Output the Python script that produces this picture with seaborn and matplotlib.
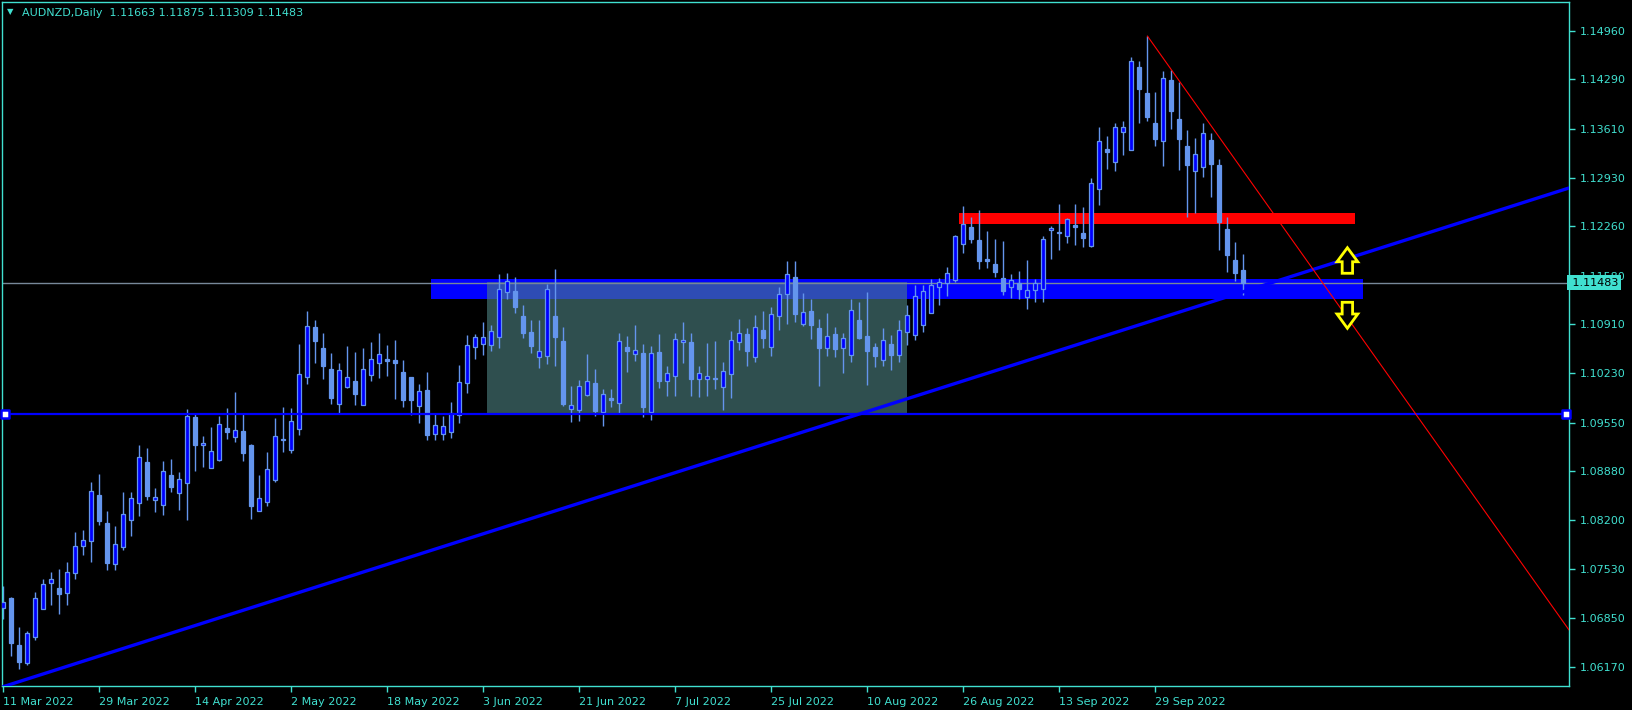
import numpy as np
import pandas as pd
import matplotlib
matplotlib.use('Agg')
import matplotlib.pyplot as plt
import matplotlib.transforms as mtransforms
import seaborn as sns

# ---------------------------------------------------------------- data
symbol = 'AUDNZD,Daily'
first_day = '2022-03-11'

opens = [
    1.06994, 1.07123, 1.06478, 1.06234, 1.06593, 1.06980, 1.07331, 1.07262, 1.07193, 1.07477,
    1.07849, 1.07918, 1.08550, 1.08163, 1.07601, 1.07836, 1.08206, 1.08444, 1.09006, 1.08485,
    1.08416, 1.08826, 1.08582, 1.08721, 1.09627, 1.09237, 1.08927, 1.09034, 1.09476, 1.09347,
    1.09434, 1.09241, 1.08329, 1.08453, 1.08757, 1.09324, 1.09172, 1.09466, 1.10184, 1.10870,
    1.10581, 1.10290, 1.09811, 1.10046, 1.10125, 1.09797, 1.10212, 1.10378, 1.10433, 1.10415,
    1.10249, 1.10180, 1.09783, 1.10000, 1.09397, 1.09397, 1.09421, 1.09659, 1.10101, 1.10590,
    1.10640, 1.10618, 1.10728, 1.11350, 1.11364, 1.11019, 1.10802, 1.10452, 1.10474, 1.11023,
    1.10677, 1.09734, 1.09720, 1.09936, 1.10097, 1.09692, 1.09890, 1.09817, 1.10590, 1.10494,
    1.10507, 1.09700, 1.10525, 1.10121, 1.10190, 1.10660, 1.10664, 1.10148, 1.10148, 1.10148,
    1.10037, 1.10218, 1.10660, 1.10774, 1.10460, 1.10829, 1.10590, 1.11019, 1.11323, 1.11561,
    1.10916, 1.11088, 1.10853, 1.10585, 1.10774, 1.10585, 1.10488, 1.10967, 1.10746, 1.10594,
    1.10415, 1.10630, 1.10484, 1.10802, 1.10760, 1.10900, 1.11068, 1.11419, 1.11474, 1.11516,
    1.12013, 1.12252, 1.12073, 1.11810, 1.11741, 1.11543, 1.11427, 1.11483, 1.11281, 1.11378,
    1.11392, 1.12215, 1.12173, 1.12132, 1.12280, 1.12165, 1.11994, 1.12773, 1.13330, 1.13146,
    1.13569, 1.13312, 1.14458, 1.14099, 1.13685, 1.13444, 1.14283, 1.13744, 1.13371, 1.13030,
    1.13085, 1.13454, 1.13109, 1.12225, 1.11796, 1.11663]
highs = [
    1.07293, 1.07137, 1.06726, 1.06671, 1.07210, 1.07386, 1.07487, 1.07528, 1.07624, 1.08034,
    1.08066, 1.08730, 1.08840, 1.08329, 1.08122, 1.08592, 1.08592, 1.09241, 1.09200, 1.08647,
    1.09020, 1.09047, 1.08868, 1.09738, 1.09669, 1.09365, 1.09490, 1.09641, 1.09752, 1.09973,
    1.09669, 1.09255, 1.08826, 1.09144, 1.09614, 1.09766, 1.09752, 1.10636, 1.11092, 1.10967,
    1.10788, 1.10512, 1.10373, 1.10608, 1.10525, 1.10581, 1.10664, 1.10788, 1.10622, 1.10691,
    1.10415, 1.10180, 1.10083, 1.10249, 1.09669, 1.09641, 1.09830, 1.10346, 1.10760, 1.10774,
    1.10940, 1.10894, 1.11603, 1.11617, 1.11561, 1.11171, 1.10967, 1.10967, 1.11465, 1.11672,
    1.10870, 1.10056, 1.10139, 1.10498, 1.10290, 1.10014, 1.10014, 1.10788, 1.10746, 1.10899,
    1.10636, 1.10608, 1.10774, 1.10336, 1.10788, 1.10940, 1.10788, 1.10332, 1.10650, 1.10677,
    1.10387, 1.10815, 1.10981, 1.10857, 1.11037, 1.11092, 1.11143, 1.11420, 1.11783, 1.11783,
    1.11340, 1.11253, 1.10981, 1.11064, 1.10870, 1.10784, 1.11253, 1.11216, 1.11350, 1.10650,
    1.10857, 1.10760, 1.10967, 1.11175, 1.11451, 1.11451, 1.11530, 1.11543, 1.11696, 1.12146,
    1.12542, 1.12395, 1.12487, 1.12197, 1.12086, 1.12059, 1.11603, 1.11649, 1.11796, 1.11534,
    1.12128, 1.12266, 1.12570, 1.12381, 1.12570, 1.12524, 1.12929, 1.13638, 1.13509, 1.13693,
    1.13721, 1.14605, 1.14549, 1.14891, 1.14117, 1.14407, 1.14421, 1.14259, 1.13592, 1.13486,
    1.13685, 1.13547, 1.13196, 1.12386, 1.12049, 1.11875]
lows = [
    1.06833, 1.06330, 1.06142, 1.06202, 1.06551, 1.06980, 1.07031, 1.06911, 1.07035, 1.07394,
    1.07721, 1.07628, 1.08136, 1.07514, 1.07514, 1.07790, 1.07987, 1.08264, 1.08485, 1.08315,
    1.08278, 1.08592, 1.08343, 1.08205, 1.08881, 1.08937, 1.08927, 1.09020, 1.09324, 1.09283,
    1.09020, 1.08219, 1.08329, 1.08398, 1.08730, 1.09144, 1.09130, 1.09383, 1.10087, 1.10378,
    1.10157, 1.09811, 1.09687, 1.10032, 1.09797, 1.09797, 1.10129, 1.10170, 1.10198, 1.09880,
    1.09770, 1.09659, 1.09549, 1.09310, 1.09310, 1.09310, 1.09338, 1.09549, 1.09963, 1.10433,
    1.10488, 1.10543, 1.10585, 1.11262, 1.11068, 1.10723, 1.10516, 1.10308, 1.10364, 1.10336,
    1.09783, 1.09563, 1.09577, 1.09922, 1.09645, 1.09507, 1.09770, 1.09673, 1.10253, 1.10405,
    1.09632, 1.09590, 1.10032, 1.09922, 1.09922, 1.10378, 1.09922, 1.09908, 1.09922, 1.10018,
    1.09728, 1.09894, 1.10557, 1.10336, 1.10392, 1.10585, 1.10474, 1.10833, 1.10916, 1.10944,
    1.10889, 1.10710, 1.10060, 1.10474, 1.10460, 1.10240, 1.10392, 1.10710, 1.10074, 1.10322,
    1.10332, 1.10280, 1.10387, 1.10622, 1.10691, 1.10800, 1.11060, 1.11175, 1.11299, 1.11488,
    1.11889, 1.12035, 1.11668, 1.11682, 1.11566, 1.11313, 1.11276, 1.11253, 1.11124, 1.11220,
    1.11220, 1.11806, 1.11935, 1.12035, 1.12003, 1.11980, 1.11980, 1.12556, 1.13053, 1.13030,
    1.13247, 1.13312, 1.13693, 1.13721, 1.13371, 1.13099, 1.13610, 1.13040, 1.12395, 1.12441,
    1.12939, 1.12662, 1.11935, 1.11635, 1.11511, 1.11309]
closes = [
    1.07068, 1.06501, 1.06248, 1.06639, 1.07123, 1.07321, 1.07386, 1.07187, 1.07483, 1.07845,
    1.07928, 1.08605, 1.08193, 1.07615, 1.07873, 1.08288, 1.08509, 1.09071, 1.08540, 1.08522,
    1.08881, 1.08665, 1.08771, 1.09641, 1.09241, 1.09269, 1.09158, 1.09531, 1.09421, 1.09448,
    1.09130, 1.08398, 1.08509, 1.08909, 1.09365, 1.09310, 1.09572, 1.10221, 1.10884, 1.10682,
    1.10336, 1.09894, 1.10277, 1.10180, 1.09950, 1.10290, 1.10429, 1.10498, 1.10405, 1.10378,
    1.09866, 1.09866, 1.09986, 1.09383, 1.09513, 1.09503, 1.09683, 1.10107, 1.10618, 1.10728,
    1.10728, 1.10811, 1.11392, 1.11502, 1.11151, 1.10792, 1.10613, 1.10539, 1.11392, 1.10737,
    1.09811, 1.09789, 1.10052, 1.10121, 1.09715, 1.09941, 1.09866, 1.10673, 1.10543, 1.10549,
    1.09770, 1.10507, 1.10129, 1.10231, 1.10701, 1.10687, 1.10157, 1.10231, 1.10190, 1.10171,
    1.10258, 1.10687, 1.10784, 1.10543, 1.10866, 1.10723, 1.11046, 1.11323, 1.11599, 1.11055,
    1.11074, 1.10903, 1.10585, 1.10742, 1.10571, 1.10715, 1.11101, 1.10723, 1.10543, 1.10474,
    1.10691, 1.10484, 1.10829, 1.11037, 1.11299, 1.11368, 1.11451, 1.11488, 1.11613, 1.12128,
    1.12294, 1.12090, 1.11787, 1.11778, 1.11635, 1.11372, 1.11520, 1.11400, 1.11382, 1.11479,
    1.12082, 1.12242, 1.12187, 1.12359, 1.12256, 1.12104, 1.12856, 1.13436, 1.13292, 1.13630,
    1.13630, 1.14541, 1.14163, 1.13776, 1.13472, 1.14306, 1.13859, 1.13472, 1.13113, 1.13257,
    1.13547, 1.13122, 1.12325, 1.11865, 1.11621, 1.11483]

price_ticks = [1.14960, 1.14290, 1.13610, 1.12930, 1.12260, 1.11580, 1.10910,
               1.10230, 1.09550, 1.08880, 1.08200, 1.07530, 1.06850, 1.06170]
date_tick_every = 12

# drawn objects (bar index / price anchors)
support_zone = (54, 170, 1.11258, 1.11534)      # blue zone
range_box = (61, 113, 1.09680, 1.11490)         # grey-green box
resist_zone = (120, 169, 1.12294, 1.12450)      # red zone
hline_price = 1.09673
trend_up = [(0, 1.05903), (195.7, 1.12791)]     # blue trend line
trend_down = [(143, 1.14891), (195.7, 1.06686)] # red thin line
arrow_bar = 168
arrow_up = (1.11613, 1.11966)    # base, tip
arrow_down = (1.11212, 1.10853)  # base, tip

# ---------------------------------------------------------------- frame
df = pd.DataFrame({'open': opens, 'high': highs, 'low': lows, 'close': closes})
df['date'] = pd.bdate_range(first_day, periods=len(df))
df['bar'] = np.arange(len(df))
df['bull'] = df['close'] >= df['open']

#------------------------------------------------------------------------------
sns.set_style('dark', {'axes.facecolor': 'black', 'figure.facecolor': 'black'})
plt.rcParams['font.family'] = ['DejaVu Sans']
fg = '#40E0D0'
wick_c = '#6495ED'

fig = plt.figure(figsize=(16.33, 7.10), dpi=100)
ax = fig.add_axes([2 / 1633, 24 / 710, 1567 / 1633, 684 / 710])
ax.set_facecolor('black')

# background objects
x0, x1, y0, y1 = support_zone
ax.fill_between([x0 - 0.5, x1], y0, y1, color='#0000FF', lw=0, zorder=1)
x0, x1, y0, y1 = range_box
ax.fill_between([x0 - 0.5, x1], y0, support_zone[2], color='#2F4F4F', lw=0, zorder=1.1)
ax.fill_between([x0 - 0.5, x1], support_zone[2], y1, color='#2E4CB4', lw=0, zorder=1.1)
x0, x1, y0, y1 = resist_zone
ax.fill_between([x0 - 0.5, x1], y0, y1, color='#FF0000', lw=0, zorder=1)

# price line
ax.axhline(closes[-1], color='#778899', lw=1, zorder=1.5)

# candles
ax.vlines(df['bar'], df['low'], df['high'], color=wick_c, lw=1, zorder=2)
body_lo = df[['open', 'close']].min(axis=1)
body_h = (df['close'] - df['open']).abs().clip(lower=0.00012)
ax.bar(df['bar'], body_h, bottom=body_lo, width=0.5,
       color=np.where(df['bull'], '#0000FF', wick_c),
       edgecolor=wick_c, linewidth=0.9, zorder=3)

# lines
ax.axhline(hline_price, color='#0000FF', lw=1.6, zorder=4)
sns.scatterplot(x=[0.2, 195.3], y=[hline_price, hline_price], marker='s', s=28,
                color='white', edgecolor='#0000FF', linewidth=1.8, zorder=5, ax=ax,
                clip_on=False)
up = pd.DataFrame(trend_up, columns=['bar', 'price'])
sns.lineplot(data=up, x='bar', y='price', color='#0000FF', lw=2.4, zorder=4, ax=ax)
dn = pd.DataFrame(trend_down, columns=['bar', 'price'])
sns.lineplot(data=dn, x='bar', y='price', color='#FF0000', lw=0.8, zorder=4.5, ax=ax)

# arrows
def arrow(base, tip):
    h = tip - base
    head = base + h * 0.45
    xs = [-0.65, -0.65, -1.3, 0, 1.3, 0.65, 0.65, -0.65]
    ys = [base, head, head, tip, head, head, base, base]
    ax.fill([arrow_bar + v for v in xs], ys, facecolor='black', edgecolor='#FFFF00',
            lw=2, zorder=6)
arrow(*arrow_up)
arrow(*arrow_down)

# axes
ax.set_xlim(-0.16, 195.7)
ax.set_ylim(1.05912, 1.15360)
ax.set_xlabel('')
ax.set_ylabel('')
ax.yaxis.tick_right()
ax.set_yticks(price_ticks)
ax.set_yticklabels([f'{p:.5f}' for p in price_ticks])
ticks = df['bar'][::date_tick_every]
ax.set_xticks(ticks)
ax.set_xticklabels([f'{d.day} {d:%b %Y}' for d in df['date'][::date_tick_every]],
                   ha='left')
ax.tick_params(axis='both', colors=fg, labelcolor=fg, labelsize=8, direction='out',
               length=4, width=1)
ax.tick_params(axis='y', pad=4, left=False, right=True)
ax.tick_params(axis='x', pad=4, bottom=True)
ax.grid(False)
for s in ax.spines.values():
    s.set_visible(True)
    s.set_color(fg)
    s.set_linewidth(1)

# current price label
trans = mtransforms.blended_transform_factory(ax.transAxes, ax.transData)
ax.text(1.0, closes[-1], f' {closes[-1]:.5f}', transform=trans, ha='left', va='center',
        fontsize=8, color='black', zorder=10, clip_on=False,
        bbox={'boxstyle': 'square,pad=0.22', 'fc': fg, 'ec': 'none'})

# title
fig.text(7 / 1633, 1 - 12 / 710, '\u25bc', color=fg, fontsize=6, va='center')
fig.text(22 / 1633, 1 - 13 / 710,
         f'{symbol}  {opens[-1]:.5f} {highs[-1]:.5f} {lows[-1]:.5f} {closes[-1]:.5f}',
         color=fg, fontsize=8, va='center')

fig.savefig('out.png', dpi=100, facecolor='black')
